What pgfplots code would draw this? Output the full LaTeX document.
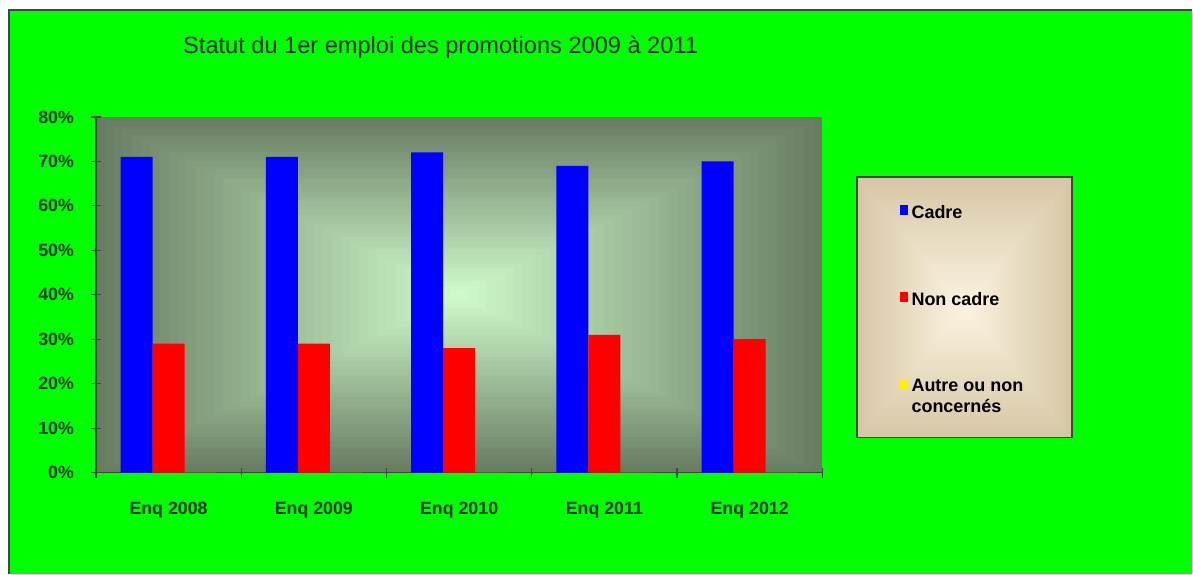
\documentclass[border=0pt]{standalone}
\usepackage{fontspec}
\setmainfont{Liberation Sans}
\usepackage{pgfplots}
\pgfplotsset{compat=1.18}
\definecolor{bggreen}{RGB}{0,255,0}
\definecolor{framecol}{RGB}{60,75,60}
\definecolor{plotout}{RGB}{104,124,98}
\definecolor{plotin}{RGB}{208,252,204}
\definecolor{legout}{RGB}{214,200,166}
\definecolor{legin}{RGB}{253,243,224}
\definecolor{labcol}{RGB}{15,60,15}
\definecolor{titlecol}{RGB}{20,45,20}
\pgfplotsset{
  legsq/.style={legend image code/.code={\fill[##1] (0pt,-1pt) rectangle (4pt,4pt);}},
  legsqup/.style={legend image code/.code={\fill[##1] (0pt,4.25pt) rectangle (4pt,9.25pt);}},
}

\begin{document}
\begin{tikzpicture}
% background, 1 px of the reference = 0.5pt
\begin{scope}[x=0.5pt,y=0.5pt]
  \fill[white] (0,0) rectangle (1193,574);
  \fill[bggreen] (9.5,0) rectangle (1193,564);
  \draw[framecol,line width=1pt] (9.5,0) -- (9.5,564) -- (1193,564);
  % plot area: rectangular "from centre" gradient
  \foreach \i in {0,...,40}{
    \pgfmathsetmacro{\s}{1-\i/40}
    \pgfmathsetmacro{\p}{100*\i/40}
    \fill[plotin!\p!plotout] ({459.5-363.5*\s},{279-178*\s}) rectangle ({459.5+363.5*\s},{279+178*\s});
  }
  % legend box
  \foreach \i in {0,...,30}{
    \pgfmathsetmacro{\s}{1-\i/30}
    \pgfmathsetmacro{\p}{100*\i/30}
    \fill[legin!\p!legout] ({965.5-107.5*\s},{266.5-130.5*\s}) rectangle ({965.5+107.5*\s},{266.5+130.5*\s});
  }
  \draw[framecol,line width=0.8pt] (858,136) rectangle (1073,397);
  \node[anchor=west,text=titlecol,font=\fontsize{11.8}{13}\selectfont,inner sep=0pt]
    at (183,527) {Statut du 1er emploi des promotions 2009 à 2011};
\end{scope}

\begin{axis}[
  at={(48pt,50.5pt)}, anchor=south west,
  width=363.5pt, height=178pt, scale only axis,
  xmin=-0.5, xmax=4.5, ymin=0, ymax=80,
  ybar=0pt, bar width=16pt,
  axis lines*=left,
  axis line style={-,draw=framecol,line width=0.7pt},
  tick style={draw=framecol,line width=0.6pt},
  tick align=center, major tick length=5pt,
  xtick={-0.5,0.5,...,4.5}, xticklabels={},
  extra x ticks={0,1,2,3,4},
  extra x tick labels={Enq 2008,Enq 2009,Enq 2010,Enq 2011,Enq 2012},
  extra x tick style={major tick length=0pt,
    tick label style={yshift=-11pt}},
  ytick={0,10,...,80},
  yticklabel={\pgfmathprintnumber{\tick}\%},
  /pgf/number format/assume math mode=true,
  ticklabel style={font=\bfseries\fontsize{8.9}{10}\selectfont,text=labcol},
  yticklabel style={xshift=-5pt},
  legend style={at={(1.0975,0.775)}, anchor=north west, draw=none, fill=none,
    font=\bfseries\fontsize{9}{10.5}\selectfont, row sep=31.5pt,
    cells={align=left}},
  legend cell align=left,
  legsq,
]
\addplot[fill=blue,draw=none] coordinates {(0,71) (1,71) (2,72) (3,69) (4,70)};
\addlegendentry{Cadre}
\addplot[fill=red,draw=none] coordinates {(0,29) (1,29) (2,28) (3,31) (4,30)};
\addlegendentry{Non cadre}
\addplot[fill=yellow,draw=none,legsqup]
  coordinates {(0,0) (1,0) (2,0) (3,0) (4,0)};
\addlegendentry{Autre ou non\\concernés}
\end{axis}
\end{tikzpicture}
\end{document}
